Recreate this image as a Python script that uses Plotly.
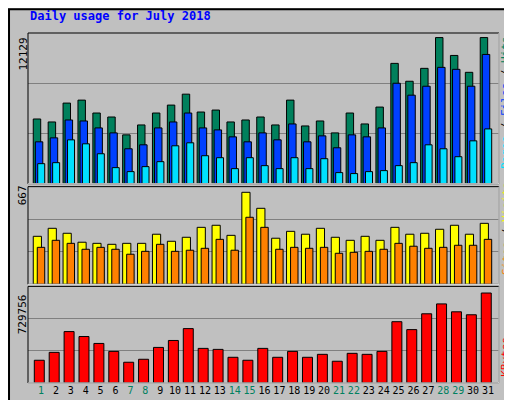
import plotly.graph_objects as go

days = list(range(1, 32))
hits = [5378,5132,6696,6943,5872,5543,4061,4885,5872,6531,7437,5955,6119,5132,5296,5543,4885,6943,4802,5214,4226,5872,4967,6366,9989,8507,9577,12129,10647,9248,12129]
files = [3485,3814,5296,5214,4638,4226,2909,3238,4638,5132,5872,4638,4473,3897,3485,4226,3650,4967,3485,3979,2991,4061,3897,4638,8342,7354,8095,9659,9495,8095,10730]
pages = [1674,1756,3650,3320,2497,1345,1015,1427,1839,3156,3403,2333,2168,1262,2168,1509,1262,2168,1262,2086,933,851,1015,1098,1509,1756,3238,2909,2250,3567,4555]
visits = [348,406,370,305,297,290,297,297,363,312,341,413,428,355,667,551,334,384,363,406,341,319,348,319,413,363,370,399,428,363,442]
sites = [268,319,297,254,268,254,218,239,290,239,247,261,326,247,486,413,254,268,261,268,225,232,239,254,297,276,261,268,283,283,326]
kbytes = [184444,248598,417004,376907,320772,256618,168405,192463,288695,344830,441062,280676,272656,208502,184444,280676,208502,256618,208502,232560,176425,240579,232560,256618,497197,433042,561351,641544,577390,553332,729756]
weekends = [1, 7, 8, 14, 15, 21, 22, 28, 29]
tick_text = [f"<span style='color:#00805F'>{d}</span>" if d in weekends else str(d) for d in days]

FONT = "DejaVu Sans Mono"
line = dict(color="black", width=1)
fig = go.Figure()
fig.add_bar(x=days, y=hits, marker=dict(color="#00805C", line=line), offset=-0.52, width=0.5, xaxis="x", yaxis="y")
fig.add_bar(x=days, y=files, marker=dict(color="#0040FF", line=line), offset=-0.38, width=0.5, xaxis="x", yaxis="y")
fig.add_bar(x=days, y=pages, marker=dict(color="#00E0FF", line=line), offset=-0.22, width=0.47, xaxis="x", yaxis="y")
fig.add_bar(x=days, y=visits, marker=dict(color="#FFFF00", line=line), offset=-0.52, width=0.55, xaxis="x2", yaxis="y2")
fig.add_bar(x=days, y=sites, marker=dict(color="#FF8000", line=line), offset=-0.25, width=0.5, xaxis="x2", yaxis="y2")
fig.add_bar(x=days, y=kbytes, marker=dict(color="#FF0000", line=line), offset=-0.45, width=0.67, xaxis="x3", yaxis="y3")

xr = [0.127, 31.74]
xcommon = dict(range=xr, showgrid=False, zeroline=False, fixedrange=True)
ycommon = dict(showticklabels=False, ticks="", zeroline=False, showgrid=True, gridcolor="#808080", gridwidth=1)
fig.update_layout(
    width=512, height=400, showlegend=False, barmode="overlay",
    margin=dict(l=20, r=21, t=25, b=22),
    paper_bgcolor="#C0C0C0", plot_bgcolor="#C0C0C0",
    font=dict(family=FONT, size=11, color="black"),
    xaxis=dict(xcommon, showticklabels=False, anchor="y"),
    xaxis2=dict(xcommon, showticklabels=False, anchor="y2"),
    xaxis3=dict(xcommon, anchor="y3", tickvals=days, ticktext=tick_text, ticks="", tickangle=0,
                tickfont=dict(family=FONT, size=10)),
    yaxis=dict(ycommon, domain=[0.569, 1], range=[0, 12508], tickvals=[12508/3, 2*12508/3]),
    yaxis2=dict(ycommon, domain=[0.282, 0.561], range=[0, 708], tickvals=[236, 472]),
    yaxis3=dict(ycommon, domain=[0, 0.276], range=[0, 783500], tickvals=[783500/3, 2*783500/3]),
)
for y0, y1 in [(0.569, 1), (0.282, 0.561), (0, 0.276)]:
    fig.add_shape(type="rect", xref="paper", yref="paper", x0=0, x1=1, y0=y0, y1=y1, line=dict(color="black", width=1))
    fig.add_shape(type="line", xref="paper", yref="paper", x0=0, x1=1, y0=y0, y1=y0, line=dict(color="white", width=1))
    fig.add_shape(type="line", xref="paper", yref="paper", x0=1, x1=1, y0=y0, y1=y1, line=dict(color="white", width=1))
fig.add_shape(type="rect", xref="paper", yref="paper", x0=-0.0403, x1=1.0403, y0=-0.0567, y1=1.068, line=dict(color="black", width=2), layer="below")

fig.add_annotation(text="<b>Daily usage for July 2018</b>", xref="paper", yref="paper", x=0, y=1.022, xanchor="left", yanchor="bottom", showarrow=False, font=dict(family=FONT, size=12, color="#0000FF"))
for txt, yc in [("12129", 0.94), ("667", 0.535), ("729756", 0.195)]:
    fig.add_annotation(text=txt, xref="paper", yref="paper", x=-0.0115, y=yc, xanchor="center", yanchor="middle", textangle=-90, showarrow=False, font=dict(family=FONT, size=11))
rx = 1.0149
fig.add_annotation(text="<span style='color:#00E0FF'>Pages</span> / <span style='color:#0040FF'>Files</span> / <span style='color:#00805C'>Hits</span>", xref="paper", yref="paper", x=rx, y=0.8, xanchor="center", yanchor="middle", textangle=-90, showarrow=False, font=dict(family=FONT, size=11))
fig.add_annotation(text="<span style='color:#FF8000'>Sites</span> / <span style='color:#FFFF00'>Visits</span>", xref="paper", yref="paper", x=rx, y=0.44, xanchor="center", yanchor="middle", textangle=-90, showarrow=False, font=dict(family=FONT, size=11))
fig.add_annotation(text="<span style='color:#FF0000'>KBytes</span>", xref="paper", yref="paper", x=rx, y=0.075, xanchor="center", yanchor="middle", textangle=-90, showarrow=False, font=dict(family=FONT, size=11))

fig.write_html("out.html")
